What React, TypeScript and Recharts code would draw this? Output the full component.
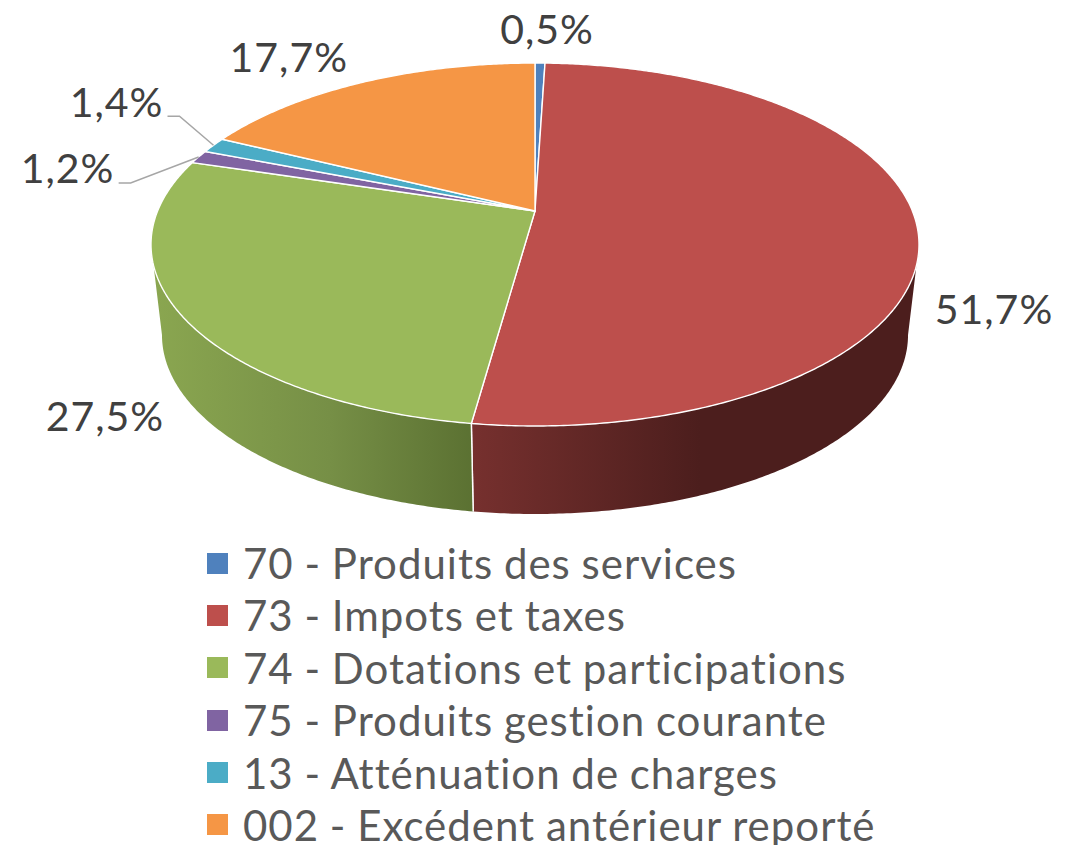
import { PieChart, Pie, Legend } from 'recharts';

const categories = [
  '70 - Produits des services',
  '73 - Impots et taxes',
  '74 - Dotations et participations',
  '75 - Produits gestion courante',
  '13 - Atténuation de charges',
  '002 - Excédent antérieur reporté',
];
const shares = [0.5, 51.7, 27.5, 1.2, 1.4, 17.7];
const colors = ['#4f81bd', '#bd4f4c', '#9ab95a', '#8064a2', '#4bacc6', '#f59645'];
const wallColors = ['#2f4d71', 'url(#wallRed)', 'url(#wallGreen)', '#4d3c61', '#2d6777', '#94592a'];

// where each percentage sits, relative to the rim point of its slice
const labelOffsets = [
  [7, -35],
  [77, 82],
  [-77, 100],
  [-131, 11],
  [-97, -44],
  [-74, -26],
];
const leaderLabels = [3, 4];

const rows = categories.map((name, i) => ({ name, value: shares[i], fill: colors[i] }));
const wallRows = categories.map((name, i) => ({ name, value: shares[i], fill: wallColors[i] }));

const FONT = 'Lato, sans-serif';
const CX = 535;
const CY = 211;
const RADIUS = 377.4;
const FLAT = 0.4645; // vertical squash of the top face
const PERSP = 0.1846; // near side drawn bigger than far side
const BOTTOM_SCALE = 0.9714;
const BOTTOM_FLAT = 0.458;
const BOTTOM_DROP = 91;
// the wall is only seen between these two angles (where the rim is widest)
const WALL_FROM = 100.64;
const WALL_TO = 259.36;

// degrees clockwise from 12 o'clock -> screen point on the top or bottom rim
function project(deg: number, cx: number, cy: number, r: number, bottom = false) {
  const t = (deg * Math.PI) / 180;
  const u = Math.sin(t);
  const v = -Math.cos(t);
  const d = 1 - PERSP * v;
  if (bottom) {
    return [cx + (r * BOTTOM_SCALE * u) / d, cy + BOTTOM_DROP + (r * BOTTOM_FLAT * v) / d];
  }
  return [cx + (r * u) / d, cy + (r * FLAT * v) / d];
}

function arcPoints(from: number, to: number, cx: number, cy: number, r: number, bottom = false) {
  const steps = Math.max(2, Math.ceil((to - from) * 2));
  const pts = [];
  for (let i = 0; i <= steps; i++) {
    pts.push(project(from + ((to - from) * i) / steps, cx, cy, r, bottom));
  }
  return pts;
}

const toPath = (pts: number[][]) => pts.map((p, i) => `${i ? 'L' : 'M'}${p[0].toFixed(2)} ${p[1].toFixed(2)}`).join(' ');

function TopFace(props: any) {
  const { cx, cy, outerRadius, startAngle, endAngle, fill } = props;
  const from = 90 - startAngle;
  const to = 90 - endAngle;
  const d = `M${cx} ${cy} ${toPath(arcPoints(from, to, cx, cy, outerRadius)).replace('M', 'L')} Z`;
  return <path d={d} fill={fill} stroke="#ffffff" strokeWidth={1.4} strokeLinejoin="round" />;
}

function SideWall(props: any) {
  const { cx, cy, outerRadius, startAngle, endAngle, fill } = props;
  const from = Math.max(90 - startAngle, WALL_FROM);
  const to = Math.min(90 - endAngle, WALL_TO);
  if (to <= from) return <g />;
  const top = arcPoints(from, to, cx, cy, outerRadius);
  const bottom = arcPoints(from, to, cx, cy, outerRadius, true).reverse();
  const edges = [from, to].filter((deg) => deg > WALL_FROM && deg < WALL_TO);
  return (
    <g>
      <path d={`${toPath([...top, ...bottom])} Z`} fill={fill} />
      {edges.map((deg) => (
        <path
          key={deg}
          d={toPath([project(deg, cx, cy, outerRadius), project(deg, cx, cy, outerRadius, true)])}
          stroke="#ffffff"
          strokeWidth={1.4}
          fill="none"
        />
      ))}
    </g>
  );
}

function renderLabel(props: any) {
  const { cx, cy, midAngle, index, value, outerRadius } = props;
  const rim = project(90 - midAngle, cx, cy, outerRadius);
  const x = rim[0] + labelOffsets[index][0];
  const y = rim[1] + labelOffsets[index][1];
  return (
    <g key={index}>
      {leaderLabels.includes(index) && (
        <polyline
          points={`${x + 51},${y + 15} ${x + 63},${y + 15} ${rim[0]},${rim[1]}`}
          fill="none"
          stroke="#a6a6a6"
          strokeWidth={1.5}
        />
      )}
      <text
        x={x}
        y={y}
        textAnchor="middle"
        dominantBaseline="central"
        fontFamily={FONT}
        fontSize={41}
        fill="#404040"
        style={{ letterSpacing: 1 }}
      >
        {String(value).replace('.', ',') + '%'}
      </text>
    </g>
  );
}

function renderLegend() {
  return (
    <div
      style={{
        fontFamily: FONT,
        fontSize: 42,
        letterSpacing: 1,
        wordSpacing: -1,
        color: '#595959',
        fontVariantLigatures: 'none',
      }}
    >
      {rows.map((r) => (
        <div
          key={r.name}
          style={{ display: 'flex', alignItems: 'center', height: 38, lineHeight: '38px', marginBottom: 14.4, whiteSpace: 'nowrap' }}
        >
          <span style={{ width: 21, height: 21, background: r.fill, marginRight: 15, flex: 'none' }} />
          {r.name}
        </div>
      ))}
    </div>
  );
}

export default function App() {
  return (
    <div style={{ position: 'absolute', left: 0, top: 0, width: 1078, height: 845, overflow: 'hidden', background: '#fff' }}>
      <PieChart width={1078} height={845} margin={{ top: 0, right: 0, bottom: 0, left: 0 }}>
        <defs>
          <linearGradient id="wallRed" gradientUnits="userSpaceOnUse" x1={473} y1={0} x2={700} y2={0}>
            <stop offset="0%" stopColor="#76302e" />
            <stop offset="100%" stopColor="#4c1e1d" />
          </linearGradient>
          <linearGradient id="wallGreen" gradientUnits="userSpaceOnUse" x1={155} y1={0} x2={473} y2={0}>
            <stop offset="0%" stopColor="#8aa650" />
            <stop offset="55%" stopColor="#768f46" />
            <stop offset="100%" stopColor="#5b7132" />
          </linearGradient>
        </defs>
        <Pie
          data={wallRows}
          dataKey="value"
          nameKey="name"
          cx={CX}
          cy={CY}
          innerRadius={0}
          outerRadius={RADIUS}
          startAngle={90}
          endAngle={-270}
          legendType="none"
          shape={SideWall}
          stroke="none"
          isAnimationActive={false}
        />
        <Pie
          data={rows}
          dataKey="value"
          nameKey="name"
          cx={CX}
          cy={CY}
          innerRadius={0}
          outerRadius={RADIUS}
          startAngle={90}
          endAngle={-270}
          shape={TopFace}
          label={renderLabel}
          labelLine={false}
          isAnimationActive={false}
        />
        <Legend
          content={renderLegend}
          layout="vertical"
          verticalAlign="bottom"
          wrapperStyle={{ position: 'absolute', left: 207, top: 544, width: 800, bottom: 'auto' }}
        />
      </PieChart>
    </div>
  );
}
